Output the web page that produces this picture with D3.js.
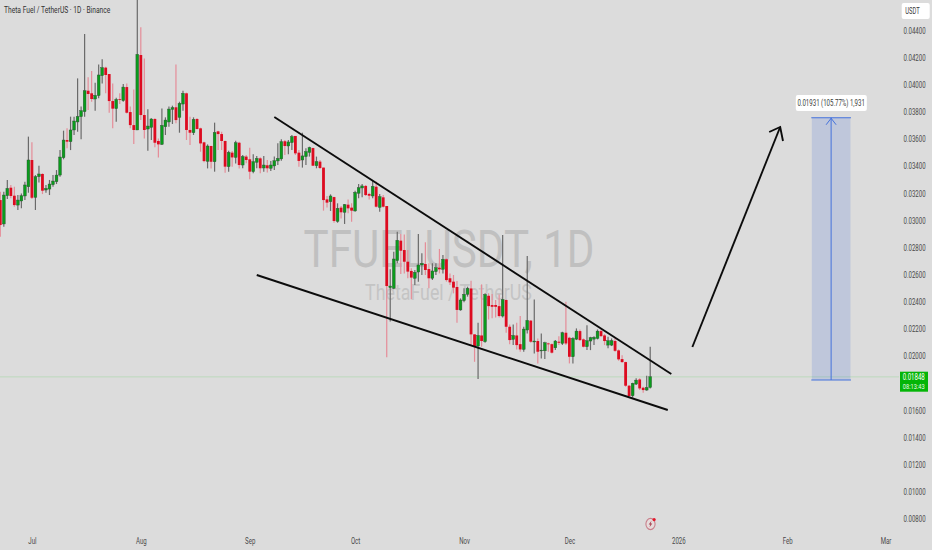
<!DOCTYPE html>
<html>
<head>
<meta charset="utf-8">
<title>TFUELUSDT, 1D</title>
<script src="https://cdn.jsdelivr.net/npm/d3@7"></script>
<style>
    html, body { margin: 0; padding: 0; background: #dcdcdc; overflow: hidden; }
    svg { display: block; font-family: Roboto, "Liberation Sans", sans-serif; }
</style>
</head>
<body>
<svg id="chart" width="932" height="550"></svg>
<script>
//*************************************************
// Data (prices in USDT)
//*************************************************
var firstCandle = '2025-06-22';

var opens = [
    0.03150,0.02974,0.03182,0.03241,0.03182,0.03113,0.03143,0.03180,0.03248,0.03445,0.03170,0.03322,0.03342,0.03224,0.03231,0.03263,
    0.03285,0.03334,0.03462,0.03592,0.03580,0.03666,0.03725,0.03764,0.03801,0.03955,0.03936,0.03894,0.03919,0.04066,0.04125,0.04078,
    0.03879,0.03823,0.03894,0.03882,0.03982,0.03798,0.03702,0.03666,0.04218,0.03776,0.03673,0.03685,0.03747,0.03585,0.03560,0.03690,
    0.03725,0.03818,0.03833,0.03759,0.03857,0.03936,0.03666,0.03646,0.03747,0.03678,0.03575,0.03435,0.03548,0.03432,0.03656,0.03636,
    0.03585,0.03396,0.03499,0.03464,0.03572,0.03408,0.03470,0.03450,0.03359,0.03428,0.03457,0.03386,0.03406,0.03384,0.03401,0.03438,
    0.03453,0.03583,0.03548,0.03573,0.03622,0.03499,0.03445,0.03470,0.03501,0.03533,0.03403,0.03433,0.03389,0.03155,0.03138,0.03172,
    0.02993,0.03094,0.03060,0.03116,0.03094,0.03070,0.03200,0.03239,0.03254,0.03195,0.03180,0.03248,0.03096,0.03170,0.03106,0.02505,
    0.02500,0.02704,0.02851,0.02782,0.02696,0.02628,0.02574,0.02620,0.02672,0.02679,0.02642,0.02574,0.02623,0.02652,0.02640,0.02714,
    0.02574,0.02549,0.02510,0.02341,0.02409,0.02456,0.02499,0.02161,0.02075,0.02153,0.02107,0.02445,0.02377,0.02377,0.02369,0.02296,
    0.02414,0.02217,0.02124,0.02153,0.02089,0.02050,0.02193,0.02262,0.02105,0.02112,0.02040,0.02040,0.02094,0.02089,0.02062,0.02107,
    0.02094,0.02173,0.02136,0.01996,0.02126,0.02185,0.02124,0.02070,0.02112,0.02126,0.02131,0.02185,0.02153,0.02082,0.02082,0.02112,
    0.02043,0.01979,0.01957,0.01783,0.01709,0.01795,0.01829,0.01768,0.01751,0.01770
];
var highs = [
    0.03212,0.03212,0.03298,0.03261,0.03248,0.03187,0.03199,0.03285,0.03617,0.03575,0.03334,0.03403,0.03347,0.03261,0.03298,0.03334,
    0.03371,0.03518,0.03661,0.03678,0.03764,0.03764,0.04046,0.03838,0.04373,0.04054,0.04100,0.04014,0.04149,0.04186,0.04132,0.04078,
    0.04009,0.03904,0.03936,0.04004,0.04009,0.03838,0.03965,0.04640,0.04422,0.04193,0.03818,0.03752,0.03752,0.03604,0.03825,0.03759,
    0.03838,0.03845,0.04149,0.03874,0.03955,0.03941,0.03764,0.03759,0.03752,0.03683,0.03580,0.03560,0.03550,0.03720,0.03661,0.03653,
    0.03587,0.03513,0.03511,0.03587,0.03580,0.03482,0.03482,0.03536,0.03487,0.03475,0.03465,0.03475,0.03445,0.03438,0.03470,0.03568,
    0.03597,0.03592,0.03592,0.03629,0.03622,0.03519,0.03646,0.03531,0.03543,0.03536,0.03470,0.03445,0.03389,0.03180,0.03192,0.03175,
    0.03126,0.03106,0.03121,0.03155,0.03126,0.03219,0.03268,0.03268,0.03261,0.03204,0.03291,0.03286,0.03195,0.03187,0.03106,0.02640,
    0.02770,0.02917,0.02900,0.02897,0.02782,0.02647,0.02635,0.02900,0.02758,0.02839,0.02684,0.02684,0.02684,0.02790,0.02746,0.02721,
    0.02610,0.02598,0.02554,0.02426,0.02500,0.02512,0.02556,0.02161,0.02247,0.02529,0.02463,0.02463,0.02458,0.02414,0.02455,0.02892,
    0.02418,0.02234,0.02234,0.02247,0.02296,0.02217,0.02738,0.02267,0.02418,0.02131,0.02168,0.02107,0.02099,0.02094,0.02119,0.02148,
    0.02180,0.02401,0.02143,0.02139,0.02205,0.02197,0.02131,0.02229,0.02143,0.02148,0.02197,0.02197,0.02163,0.02143,0.02131,0.02139,
    0.02050,0.02008,0.01959,0.01788,0.01805,0.01837,0.01837,0.01775,0.01856,0.02070
];
var lows = [
    0.02880,0.02954,0.03158,0.03163,0.03101,0.03077,0.03089,0.03150,0.03204,0.03158,0.03077,0.03280,0.03194,0.03204,0.03187,0.03248,
    0.03268,0.03322,0.03450,0.03531,0.03518,0.03629,0.03653,0.03597,0.03764,0.03813,0.03874,0.03808,0.03899,0.04009,0.03936,0.03793,
    0.03678,0.03727,0.03857,0.03874,0.03788,0.03678,0.03563,0.03666,0.03739,0.03604,0.03513,0.03592,0.03538,0.03464,0.03555,0.03629,
    0.03690,0.03710,0.03715,0.03646,0.03808,0.03592,0.03555,0.03629,0.03671,0.03506,0.03428,0.03383,0.03383,0.03359,0.03518,0.03518,
    0.03351,0.03359,0.03396,0.03420,0.03383,0.03384,0.03421,0.03303,0.03347,0.03384,0.03347,0.03359,0.03352,0.03364,0.03371,0.03408,
    0.03440,0.03482,0.03487,0.03519,0.03482,0.03396,0.03389,0.03408,0.03470,0.03401,0.03384,0.03379,0.03072,0.03096,0.03070,0.02983,
    0.02983,0.03015,0.02974,0.03052,0.02991,0.03064,0.03163,0.03170,0.03180,0.03155,0.03163,0.03096,0.03064,0.03096,0.01992,0.02255,
    0.02493,0.02684,0.02606,0.02610,0.02574,0.02419,0.02525,0.02549,0.02598,0.02598,0.02500,0.02561,0.02598,0.02610,0.02610,0.02549,
    0.02525,0.02463,0.02247,0.02335,0.02397,0.02439,0.02082,0.01959,0.01832,0.02070,0.02099,0.02271,0.02279,0.02286,0.02286,0.02286,
    0.02173,0.02089,0.02082,0.02050,0.02033,0.02033,0.02168,0.02099,0.02021,0.01947,0.01984,0.01979,0.02033,0.02021,0.02045,0.02082,
    0.02082,0.02082,0.01947,0.01947,0.02119,0.02112,0.02065,0.02045,0.02045,0.02082,0.02124,0.02143,0.02082,0.02058,0.02075,0.02033,
    0.01967,0.01952,0.01775,0.01694,0.01697,0.01788,0.01751,0.01731,0.01746,0.01763
];
var closes = [
    0.02966,0.03187,0.03236,0.03180,0.03113,0.03150,0.03182,0.03261,0.03445,0.03167,0.03322,0.03342,0.03219,0.03236,0.03268,0.03290,
    0.03334,0.03467,0.03592,0.03580,0.03666,0.03732,0.03766,0.03808,0.03955,0.03931,0.03894,0.03921,0.04071,0.04125,0.04071,0.03879,
    0.03823,0.03891,0.03889,0.03982,0.03793,0.03702,0.03666,0.04223,0.03776,0.03666,0.03695,0.03747,0.03572,0.03560,0.03700,0.03739,
    0.03820,0.03830,0.03739,0.03862,0.03936,0.03666,0.03646,0.03744,0.03673,0.03567,0.03437,0.03548,0.03432,0.03648,0.03636,0.03585,
    0.03396,0.03501,0.03464,0.03572,0.03408,0.03470,0.03445,0.03359,0.03433,0.03457,0.03384,0.03408,0.03384,0.03408,0.03440,0.03457,
    0.03580,0.03548,0.03578,0.03617,0.03494,0.03438,0.03475,0.03507,0.03536,0.03403,0.03433,0.03386,0.03150,0.03131,0.03180,0.02996,
    0.03089,0.03060,0.03116,0.03089,0.03072,0.03207,0.03241,0.03254,0.03187,0.03182,0.03251,0.03101,0.03175,0.03101,0.02517,0.02517,
    0.02716,0.02854,0.02777,0.02696,0.02623,0.02579,0.02618,0.02672,0.02684,0.02635,0.02574,0.02628,0.02652,0.02640,0.02714,0.02561,
    0.02544,0.02505,0.02341,0.02414,0.02456,0.02500,0.02161,0.02070,0.02153,0.02112,0.02455,0.02369,0.02364,0.02364,0.02296,0.02418,
    0.02217,0.02119,0.02153,0.02082,0.02050,0.02200,0.02264,0.02107,0.02112,0.02033,0.02045,0.02099,0.02089,0.02026,0.02112,0.02099,
    0.02173,0.02094,0.01996,0.02131,0.02185,0.02119,0.02070,0.02114,0.02136,0.02139,0.02185,0.02148,0.02112,0.02114,0.02114,0.02040,
    0.01977,0.01957,0.01783,0.01707,0.01800,0.01824,0.01763,0.01751,0.01770,0.01849
];

var priceTicks = [0.044, 0.042, 0.040, 0.038, 0.036, 0.034, 0.032, 0.030, 0.028, 0.026, 0.024, 0.022, 0.020, 0.016, 0.014, 0.012, 0.010, 0.008];
var monthTicks = ['2025-07-01', '2025-08-01', '2025-09-01', '2025-10-01', '2025-11-01', '2025-12-01', '2026-01-01', '2026-02-01', '2026-03-01'];
var monthLabels = ['Jul', 'Aug', 'Sep', 'Oct', 'Nov', 'Dec', '2026', 'Feb', 'Mar'];

// drawings on the chart, [date, price]
var upperWedge = [['2025-09-08', 0.03762], ['2025-12-30', 0.01869]];
var lowerWedge = [['2025-09-03', 0.02598], ['2025-12-29', 0.01604]];
var targetArrow = [['2026-01-05', 0.02068], ['2026-01-30', 0.03688]];
var position = { from: '2026-02-08', to: '2026-02-19', base: 0.01825, target: 0.03756 };

var lastPrice = 0.01848;
var countdown = '08:13:43';
var positionLabel = '0.01931 (105.77%) 1,931';
var titleText = 'Theta Fuel / TetherUS \u00b7 1D \u00b7 Binance';

//*************************************************
// Scales and layout
//*************************************************
var _width = 932;
var _height = 550;
var _bg = '#dcdcdc';
var _green = '#0a9c1c';
var _red = '#dd0b20';
var _axisColor = '#4a4a4a';
var _labelSize = 8.6;
var _squeeze = 0.71;   // the screenshot is narrower than it is tall, text comes out condensed
var _plotRight = 899;

var parseDay = d3.utcParse('%Y-%m-%d');
var startDay = parseDay(firstCandle);
var candles = opens.map(function (o, i){
    return { date: d3.utcDay.offset(startDay, i), open: o, high: highs[i], low: lows[i], close: closes[i] };
});

// 3.513 px per day, the first candle sits at the very left edge
var xScale = d3.scaleUtc()
    .domain([startDay, d3.utcDay.offset(startDay, 265)])
    .range([0.3, 0.3 + 3.513 * 265]);
var yScale = d3.scaleLinear()
    .domain([0.008, 0.044])
    .range([519.2, 30.3]);

// shrink a text sideways only, around its own x. k is a ratio, or pass a target width
function squeeze(selection, k, targetWidth){
    selection.each(function (){
        var x0 = +this.getAttribute('x') || 0;
        var ratio = targetWidth ? targetWidth / this.getComputedTextLength() : k;
        this.setAttribute('transform', 'translate(' + (x0 * (1 - ratio)) + ',0) scale(' + ratio + ',1)');
    });
    return selection;
}

var svg = d3.select('#chart');
svg.append('rect').attr('width', _width).attr('height', _height).attr('fill', _bg);

//----------------------------------------------------------------------------------
// Watermark
//----------------------------------------------------------------------------------
squeeze(svg.append('text')
    .attr('x', 449).attr('y', 267)
    .attr('text-anchor', 'middle')
    .attr('font-size', 52)
    .attr('fill', '#c0c0c0')
    .text('TFUELUSDT, 1D'), 1, 291);
squeeze(svg.append('text')
    .attr('x', 448.5).attr('y', 300)
    .attr('text-anchor', 'middle')
    .attr('font-size', 22)
    .attr('fill', '#c4c4c4')
    .text('ThetaFuel / TetherUS'), 1, 167);

//----------------------------------------------------------------------------------
// Last price line
//----------------------------------------------------------------------------------
svg.append('line')
    .attr('x1', 0).attr('x2', _plotRight)
    .attr('y1', yScale(lastPrice)).attr('y2', yScale(lastPrice))
    .attr('stroke', '#bcd9bc')
    .attr('stroke-width', 1);

//----------------------------------------------------------------------------------
// Candles
//----------------------------------------------------------------------------------
var candleG = svg.selectAll('.candle').data(candles).enter().append('g').attr('class', 'candle');

candleG.append('line')
    .attr('x1', function (d){ return xScale(d.date); })
    .attr('x2', function (d){ return xScale(d.date); })
    .attr('y1', function (d){ return yScale(d.high); })
    .attr('y2', function (d){ return yScale(d.low); })
    .attr('stroke', function (d){ return d.close >= d.open ? '#6a6a6a' : '#e58c98'; })
    .attr('stroke-width', 1.2);

candleG.append('rect')
    .attr('x', function (d){ return xScale(d.date) - 1.4; })
    .attr('width', 2.8)
    .attr('y', function (d){ return yScale(Math.max(d.open, d.close)); })
    .attr('height', function (d){ return Math.max(0.8, Math.abs(yScale(d.open) - yScale(d.close))); })
    .attr('fill', function (d){ return d.close >= d.open ? _green : _red; })
    .attr('stroke', function (d){ return d.close >= d.open ? '#2f4a33' : 'none'; })
    .attr('stroke-width', 0.4);

//----------------------------------------------------------------------------------
// Wedge lines and the arrow
//----------------------------------------------------------------------------------
var drawLine = d3.line()
    .x(function (d){ return xScale(parseDay(d[0])); })
    .y(function (d){ return yScale(d[1]); });

[upperWedge, lowerWedge, targetArrow].forEach(function (pts){
    svg.append('path')
        .attr('d', drawLine(pts))
        .attr('fill', 'none')
        .attr('stroke', '#0c0c0c')
        .attr('stroke-width', 1.9);
});

var tip = [xScale(parseDay(targetArrow[1][0])), yScale(targetArrow[1][1])];
svg.append('path')
    .attr('d', 'M' + (tip[0] - 11) + ',' + (tip[1] + 5) + 'L' + tip[0] + ',' + tip[1] + 'L' + (tip[0] + 2.8) + ',' + (tip[1] + 14))
    .attr('fill', 'none')
    .attr('stroke', '#0c0c0c')
    .attr('stroke-width', 1.9);

//----------------------------------------------------------------------------------
// Long position box
//----------------------------------------------------------------------------------
var posLeft = xScale(parseDay(position.from));
var posRight = xScale(parseDay(position.to));
var posMid = (posLeft + posRight) / 2;
var posTop = yScale(position.target);
var posBottom = yScale(position.base);

svg.append('rect')
    .attr('x', posLeft).attr('y', posTop)
    .attr('width', posRight - posLeft).attr('height', posBottom - posTop)
    .attr('fill', '#3060d8')
    .attr('fill-opacity', 0.17);

[posTop, posBottom].forEach(function (y){
    svg.append('line')
        .attr('x1', posLeft - 0.5).attr('x2', posRight + 0.5)
        .attr('y1', y).attr('y2', y)
        .attr('stroke', '#4472dc')
        .attr('stroke-width', 1.2);
});
svg.append('line')
    .attr('x1', posMid).attr('x2', posMid)
    .attr('y1', posTop).attr('y2', posBottom)
    .attr('stroke', '#4472dc')
    .attr('stroke-width', 1);
svg.append('path')
    .attr('d', 'M' + (posMid - 5) + ',' + (posTop + 7) + 'L' + posMid + ',' + (posTop + 0.5) + 'L' + (posMid + 5) + ',' + (posTop + 7))
    .attr('fill', 'none')
    .attr('stroke', '#4472dc')
    .attr('stroke-width', 1);

svg.append('rect')
    .attr('x', posMid - 35.3).attr('y', 95)
    .attr('width', 71).attr('height', 16)
    .attr('rx', 2)
    .attr('fill', '#ffffff');
squeeze(svg.append('text')
    .attr('x', posMid).attr('y', 105.8)
    .attr('text-anchor', 'middle')
    .attr('font-size', _labelSize)
    .attr('fill', '#3a3a3a')
    .text(positionLabel), _squeeze);

//----------------------------------------------------------------------------------
// Axes
//----------------------------------------------------------------------------------
var yAxis = d3.axisRight(yScale)
    .tickValues(priceTicks)
    .tickSize(0)
    .tickPadding(0)
    .tickFormat(d3.format('.5f'));
var yAxisG = svg.append('g')
    .attr('transform', 'translate(903.5,0)')
    .call(yAxis);
yAxisG.select('.domain').remove();
squeeze(yAxisG.selectAll('text')
    .attr('font-family', 'Roboto, sans-serif')
    .attr('font-size', _labelSize)
    .attr('fill', _axisColor), _squeeze);

var xAxis = d3.axisBottom(xScale)
    .tickValues(monthTicks.map(parseDay))
    .tickSize(0)
    .tickPadding(0)
    .tickFormat(function (d, i){ return monthLabels[i]; });
var xAxisG = svg.append('g')
    .attr('transform', 'translate(0,538)')
    .call(xAxis);
xAxisG.select('.domain').remove();
squeeze(xAxisG.selectAll('text')
    .attr('font-family', 'Roboto, sans-serif')
    .attr('font-size', _labelSize)
    .attr('fill', _axisColor), _squeeze);

//----------------------------------------------------------------------------------
// Labels: title, unit box, price tag, flash icon
//----------------------------------------------------------------------------------
squeeze(svg.append('text')
    .attr('x', 4).attr('y', 13.5)
    .attr('font-size', 8.8)
    .attr('fill', '#333333')
    .text(titleText), 0.76);

svg.append('rect')
    .attr('x', 901.7).attr('y', 3)
    .attr('width', 28).attr('height', 16)
    .attr('rx', 2)
    .attr('fill', '#ffffff');
squeeze(svg.append('text')
    .attr('x', 912.5).attr('y', 13.8)
    .attr('text-anchor', 'middle')
    .attr('font-size', _labelSize - 0.4)
    .attr('fill', '#3a3a3a')
    .text('USDT'), _squeeze);

svg.append('rect')
    .attr('x', 900).attr('y', 371.7)
    .attr('width', 28).attr('height', 20)
    .attr('fill', '#04b507');
squeeze(svg.append('text')
    .attr('x', 913.7).attr('y', 380.2)
    .attr('text-anchor', 'middle')
    .attr('font-size', _labelSize)
    .attr('fill', '#ffffff')
    .text(d3.format('.5f')(lastPrice)), _squeeze);
squeeze(svg.append('text')
    .attr('x', 913.7).attr('y', 388.8)
    .attr('text-anchor', 'middle')
    .attr('font-size', _labelSize - 0.6)
    .attr('fill', '#e8f8e8')
    .text(countdown), _squeeze);

var icon = svg.append('g').attr('transform', 'translate(650.5,524)');
icon.append('ellipse')
    .attr('rx', 4.6).attr('ry', 5.6)
    .attr('fill', '#e6dcdc')
    .attr('stroke', '#c9808c')
    .attr('stroke-width', 1.1);
icon.append('path')
    .attr('d', 'M1,-3.2 L-1.8,0.6 L-0.2,0.6 L-1,3.2 L1.8,-0.6 L0.2,-0.6 Z')
    .attr('fill', '#a8404f');
icon.append('circle')
    .attr('cx', 3.6).attr('cy', -4.4)
    .attr('r', 1.6)
    .attr('fill', '#e3172a');
</script>
</body>
</html>
